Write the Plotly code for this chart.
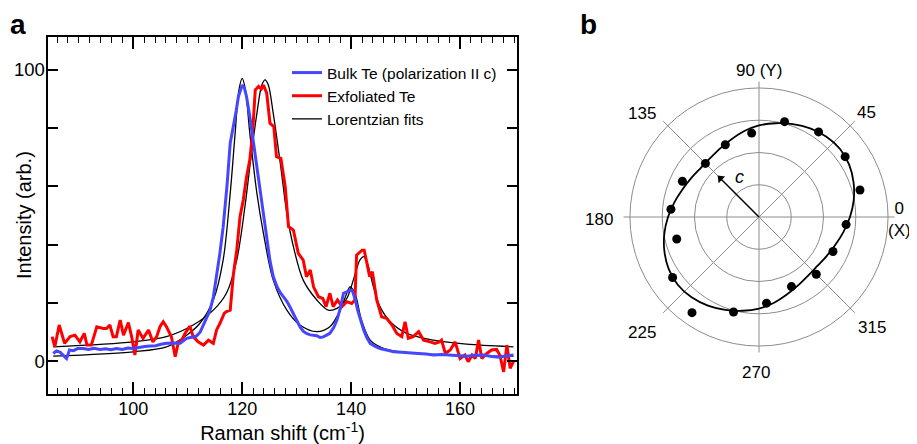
import plotly.graph_objects as go

# ---------------- Panel a data: Raman spectra ----------------
bulk_x = [85.3, 85.9, 86.6, 87.3, 87.75, 88.3, 89.0, 89.8, 90.8, 91.8, 92.8, 93.9, 94.9, 95.9,
          96.9, 98.0, 99.0, 100.0, 101.0, 102.1, 103.1, 104.1, 105.1, 106.1, 107.3, 108.6,
          109.2, 109.8, 110.7, 111.6, 112.3, 112.9, 113.5, 114.1, 114.7, 115.3, 115.9, 116.5,
          117.2, 117.8, 118.4, 118.9, 119.3, 119.7, 120.0, 120.4, 120.8, 121.4, 122.0, 122.6,
          123.3, 123.9, 124.5, 125.1, 125.7, 126.4, 127.0, 127.6, 128.2, 128.8, 129.4, 130.0,
          130.6, 131.2, 131.8, 132.5, 133.1, 133.7, 134.3, 134.9, 135.5, 136.1, 136.8, 137.4,
          138.0, 138.6, 139.2, 139.7, 140.2, 140.7, 141.2, 141.7, 142.3, 142.9, 143.5, 144.4,
          145.3, 146.5, 147.8, 149.3, 150.8, 152.3, 153.8, 155.1, 156.6, 158.2, 159.7, 161.2,
          162.7, 164.3, 165.8, 167.3, 168.5, 169.8]
bulk_y = [2.6, 3.5, 3.0, 1.5, 0.9, 3.8, 3.6, 4.3, 4.3, 4.0, 4.4, 4.0, 4.2, 3.9,
          4.3, 4.0, 4.5, 4.3, 4.7, 5.0, 5.2, 5.3, 5.8, 6.1, 6.2, 6.1,
          7.0, 7.8, 8.2, 8.6, 10.0, 12.4, 14.5, 17.5, 22.0, 29.0, 37.0, 46.0,
          60.0, 74.8, 80.5, 86.0, 90.8, 93.5, 94.8, 93.8, 90.8, 84.0, 76.0, 67.0,
          57.6, 49.0, 41.6, 34.5, 29.0, 25.5, 23.5, 22.1, 20.5, 18.5, 16.4, 13.8,
          11.8, 10.3, 9.5, 9.0, 8.9, 8.7, 8.1, 8.3, 8.9, 9.5, 11.5, 14.1,
          18.0, 23.3, 23.8, 24.3, 24.2, 21.5, 17.5, 14.0, 10.7, 8.0, 6.1, 5.0,
          4.3, 3.8, 3.2, 3.0, 2.9, 2.6, 2.4, 2.1, 2.3, 2.1, 1.9, 1.7,
          2.0, 2.1, 1.6, 1.3, 1.8, 2.1]

exfo_x = [85.1, 85.6, 86.4, 87.4, 88.4, 89.3, 90.2, 91.0, 91.5, 92.3, 93.3, 94.5, 95.1, 95.7,
          96.3, 96.9, 97.6, 98.2, 99.1, 99.7, 100.3, 100.9, 101.8, 102.8, 103.6, 104.3, 104.9,
          105.5, 106.1, 107.0, 107.7, 108.3, 108.9, 109.5, 110.4, 111.0, 111.9, 112.9, 113.8,
          114.7, 115.3, 115.9, 116.7, 117.1, 117.8, 118.4, 119.0, 119.6, 120.2, 120.8, 121.4,
          121.9, 122.4, 123.0, 123.5, 123.9, 124.5, 125.1, 125.8, 126.3, 127.1, 127.9, 128.5,
          129.4, 130.3, 131.2, 131.8, 132.5, 133.1, 134.0, 134.8, 135.4, 136.1, 136.7, 137.5,
          138.3, 139.2, 140.1, 140.7, 141.0, 142.0, 142.4, 142.9, 143.4, 143.9, 144.7, 145.6,
          146.5, 147.5, 148.4, 149.3, 149.9, 150.5, 151.4, 152.4, 153.3, 154.5, 155.4, 156.2,
          156.6, 157.3, 158.2, 159.1, 160.0, 160.9, 161.5, 162.2, 162.8, 163.4, 164.0, 164.9,
          165.8, 166.7, 167.3, 168.0, 168.6, 169.2, 169.8]
exfo_y = [8.4, 4.9, 12.4, 6.1, 8.4, 8.9, 6.6, 9.5, 5.5, 5.5, 11.8, 11.2, 11.2, 12.4,
          8.4, 8.4, 14.1, 8.9, 13.2, 8.4, 2.1, 10.7, 7.8, 10.7, 6.6, 8.4, 11.8,
          13.5, 11.8, 8.4, 1.5, 6.6, 7.2, 9.5, 12.0, 8.4, 6.6, 5.5, 7.2,
          6.1, 10.7, 12.9, 16.4, 17.0, 17.5, 30.1, 38.1, 49.6, 55.3, 63.3, 69.1,
          78.2, 93.1, 94.3, 93.4, 94.8, 92.0, 81.7, 80.5, 70.2, 69.6, 59.9, 46.2,
          45.0, 37.0, 34.7, 29.0, 31.3, 25.5, 22.1, 21.5, 18.7, 23.3, 18.7, 21.0,
          18.7, 20.4, 19.8, 21.0, 36.4, 38.1, 38.1, 33.6, 29.0, 30.7, 21.0, 15.2,
          14.7, 12.4, 9.5, 8.4, 13.5, 7.8, 8.4, 10.1, 7.2, 6.6, 6.1, 6.6,
          7.2, 2.6, 3.8, 6.6, 0.9, 2.1, -0.2, 2.1, 0.9, 7.2, 0.9, 2.6,
          3.8, 4.0, 2.1, -3.7, 5.5, -2.5, -0.2]

fit_bulk_x = [85.3, 100.0, 106.1, 109.8, 112.2, 114.7, 116.5, 117.8, 118.7, 119.4, 120.0,
              120.6, 121.4, 122.7, 123.9, 125.7, 128.2, 130.6, 133.7, 136.1, 138.0, 139.2,
              139.8, 140.7, 141.9, 143.5, 145.9, 149.0, 155.1, 161.2, 169.8]
fit_bulk_y = [1.7, 3.2, 4.9, 8.9, 12.9, 21.0, 34.7, 57.6, 78.2, 93.1, 97.1,
              93.1, 78.2, 57.6, 43.9, 27.8, 17.5, 12.4, 10.1, 11.8, 17.5, 23.3,
              25.5, 23.3, 14.1, 7.2, 4.4, 3.2, 2.3, 1.9, 1.7]

fit_exfo_x = [85.3, 100.0, 106.1, 111.0, 114.7, 117.1, 119.0, 120.5, 121.7, 122.7, 123.6,
              124.2, 124.8, 125.7, 127.0, 128.2, 129.4, 131.2, 133.7, 135.8, 137.4, 139.2,
              140.4, 141.6, 142.3, 142.9, 144.1, 145.3, 147.2, 150.2, 155.1, 161.2, 169.8]
fit_exfo_y = [4.9, 6.6, 8.4, 12.4, 17.5, 23.3, 34.7, 53.0, 71.4, 85.1, 94.8,
              96.6, 94.8, 85.1, 67.9, 50.7, 39.3, 27.8, 21.0, 17.5, 18.1, 21.5,
              27.8, 34.7, 35.9, 34.1, 25.5, 18.7, 13.5, 9.5, 7.2, 5.8, 4.9]

x_tickvals = [100, 120, 140, 160]
y_tickvals = [0, 20, 40, 60, 80, 100]
y_ticktext = ["0", "", "", "", "", "100"]

# ---------------- Panel b data: polar dependence ----------------
pol_angle = [15, 35, 55, 75, 95, 115, 135, 155, 175, 195, 215, 235, 255, 275, 295, 315, 335, 355]
pol_intensity = [3.24, 3.26, 3.22, 3.06, 2.61, 2.47, 2.35, 2.62, 2.74, 2.64, 3.27, 3.62,
                 3.05, 2.68, 2.38, 2.51, 2.53, 2.71]

pol_fit_angle = [0, 10, 20, 30, 40, 50, 60, 70, 80, 90, 100, 110, 120, 130, 140, 150, 160, 170,
                 180, 190, 200, 210, 220, 230, 240, 250, 260, 270, 280, 290, 300, 310, 320,
                 330, 340, 350, 360]
pol_fit_r = [2.82, 2.98, 3.12, 3.23, 3.28, 3.25, 3.17, 3.06, 2.95, 2.84, 2.70, 2.55, 2.44,
             2.37, 2.36, 2.42, 2.52, 2.66,
             2.82, 2.98, 3.12, 3.23, 3.28, 3.25, 3.17, 3.06, 2.95, 2.84, 2.70, 2.55, 2.44,
             2.37, 2.36, 2.42, 2.52, 2.66, 2.82]

c_axis_angle = [135, 135]
c_axis_r = [0, 1.69]

pol_ring_vals = [1, 2, 3, 4]
pol_spoke_vals = [0, 45, 90, 135, 180, 225, 270, 315]
pol_labels = ["0<br>(X)", "45", "90 (Y)", "135", "180", "225", "270", "315"]

# ---------------- layout helpers (screen pixels -> paper) ----------------
FONT = "Liberation Sans, Arial, Helvetica, sans-serif"
BLUE = "#4646ff"
RED = "#ff0000"
PAGE_W, PAGE_H = 917, 444
OFF = 8  # default page body margin
W, H = PAGE_W - OFF, PAGE_H - OFF


def fx(px):
    return (px - OFF) / W


def fy(py):
    return 1 - (py - OFF) / H


# label centres in screen pixels (layout only)
pol_label_pos = [(899, 219.5), (866.7, 112.5), (759, 71), (642.2, 113), (599.2, 219),
                 (641.7, 332), (756.2, 372), (871.7, 327.5)]

fig = go.Figure()

# fits (drawn beneath the data)
fig.add_trace(go.Scatter(x=fit_bulk_x, y=fit_bulk_y, mode="lines",
                         line=dict(color="black", width=1.3, shape="spline", smoothing=0.9),
                         name="Lorentzian fits", showlegend=True, legendrank=3))
fig.add_trace(go.Scatter(x=fit_exfo_x, y=fit_exfo_y, mode="lines",
                         line=dict(color="black", width=1.3, shape="spline", smoothing=0.9),
                         name="Lorentzian fits", showlegend=False))
fig.add_trace(go.Scatter(x=exfo_x, y=exfo_y, mode="lines", line=dict(color=RED, width=3),
                         name="Exfoliated Te", legendrank=2))
fig.add_trace(go.Scatter(x=bulk_x, y=bulk_y, mode="lines", line=dict(color=BLUE, width=3),
                         name="Bulk Te (polarization II c)", legendrank=1))

# polar panel
fig.add_trace(go.Scatterpolar(theta=pol_fit_angle, r=pol_fit_r, mode="lines",
                              line=dict(color="black", width=1.8, shape="spline"),
                              showlegend=False, subplot="polar"))
fig.add_trace(go.Scatterpolar(theta=pol_angle, r=pol_intensity, mode="markers",
                              marker=dict(color="black", size=9), showlegend=False, subplot="polar"))
fig.add_trace(go.Scatterpolar(theta=c_axis_angle, r=c_axis_r, mode="lines",
                              line=dict(color="black", width=1.5), showlegend=False, subplot="polar"))
fig.add_trace(go.Scatterpolar(theta=c_axis_angle[1:], r=c_axis_r[1:], mode="markers",
                              marker=dict(color="black", size=8, symbol="triangle-up", angle=-45),
                              showlegend=False, subplot="polar"))

annotations = [
    dict(text="<b>a</b>", x=fx(8), y=fy(36), xanchor="left", yanchor="bottom",
         font=dict(size=28), yshift=-6),
    dict(text="<b>b</b>", x=fx(578), y=fy(36), xanchor="left", yanchor="bottom",
         font=dict(size=28), yshift=-6),
    dict(text="<i>c</i>", x=fx(739), y=fy(177), xanchor="center", yanchor="middle",
         font=dict(size=18)),
    dict(text="Intensity (arb.)", x=fx(24), y=fy(215), xanchor="center", yanchor="middle",
         textangle=-90, font=dict(size=20)),
]
for txt, (px, py) in zip(pol_labels, pol_label_pos):
    annotations.append(dict(text=txt, x=fx(px), y=fy(py), xanchor="center", yanchor="middle",
                            font=dict(size=17)))
for a in annotations:
    a.update(xref="paper", yref="paper", showarrow=False)

fig.update_layout(
    width=W, height=H,
    margin=dict(l=0, r=0, t=0, b=0),
    paper_bgcolor="white", plot_bgcolor="white",
    font=dict(family=FONT, size=16, color="black"),
    xaxis=dict(domain=[fx(48.3), fx(516.7)], range=[84.4, 170.4], automargin=False,
               tickvals=x_tickvals, ticks="inside", ticklen=12, tickwidth=1.5, tickcolor="black",
               minor=dict(dtick=2, tick0=0, ticks="inside", ticklen=6, tickwidth=1.2, tickcolor="black"),
               showline=True, linecolor="black", linewidth=1.5, mirror="ticks",
               showgrid=False, zeroline=False, ticklabelstandoff=-2,
               title=dict(text="Raman shift (cm<sup>-1</sup>)", font=dict(size=20), standoff=6),
               tickfont=dict(size=18)),
    yaxis=dict(domain=[fy(394), fy(37)], range=[-11.3, 111.3], automargin=False,
               tickvals=y_tickvals, ticktext=y_ticktext, ticks="inside", ticklen=10, tickwidth=1.5,
               tickcolor="black", showline=True, linecolor="black", linewidth=1.5, mirror="ticks",
               showgrid=False, zeroline=False, ticklabelstandoff=-2,
               tickfont=dict(size=18.5)),
    legend=dict(x=fx(287), y=fy(56), xanchor="left", yanchor="top",
                bgcolor="rgba(0,0,0,0)", font=dict(size=15.5), tracegroupgap=0, itemwidth=30),
    polar=dict(
        domain=dict(x=[fx(623.5), fx(894.5)], y=[fy(352.5), fy(81.5)]),
        bgcolor="white",
        radialaxis=dict(range=[0, 4.2], tickvals=pol_ring_vals, showticklabels=False, ticks="",
                        showline=False, gridcolor="#8c8c8c", gridwidth=1),
        angularaxis=dict(tickvals=pol_spoke_vals, showticklabels=False, ticks="", showline=False,
                         gridcolor="#8c8c8c", gridwidth=1, direction="counterclockwise", rotation=0),
    ),
    annotations=annotations,
)

fig.write_html("out.html")
